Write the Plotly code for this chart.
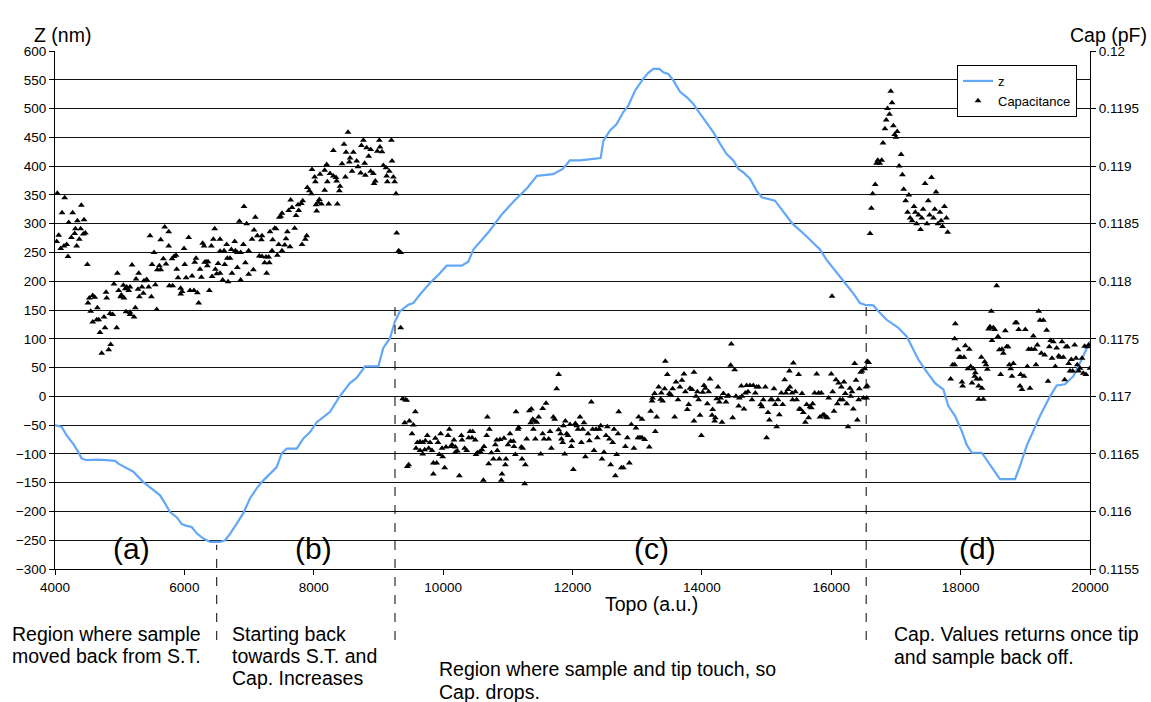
import plotly.graph_objects as go

# ---------------- Z trace (topography scan) ----------------
z_topo = [4000, 4104, 4181, 4284, 4361, 4413, 4490, 4645, 4799, 4928, 4980, 5108, 5211,
          5366, 5521, 5624, 5701, 5778, 5881, 5959, 6036, 6113, 6191, 6294, 6397, 6551,
          6629, 6706, 6809, 6912, 7015, 7118, 7221, 7324, 7427, 7505, 7582, 7737, 7840,
          7943, 8046, 8149, 8252, 8400, 8560, 8663, 8792, 8998, 9075, 9178, 9256, 9333,
          9462, 9539, 9642, 9797, 9926, 10054, 10286, 10389, 10467, 10700, 10900, 11100,
          11300, 11450, 11700, 11850, 11960, 12116, 12435, 12477, 12580, 12683, 12786,
          12863, 12966, 13095, 13172, 13250, 13342, 13404, 13481, 13559, 13662, 13765,
          13868, 13971, 14074, 14177, 14280, 14383, 14486, 14564, 14641, 14744, 14847,
          14925, 15130, 15400, 15600, 15826, 15929, 16084, 16212, 16341, 16444, 16522,
          16650, 16728, 16857, 17037, 17166, 17243, 17346, 17449, 17604, 17733, 17810,
          17913, 18016, 18093, 18171, 18326, 18403, 18506, 18609, 18841, 18918, 19021,
          19124, 19227, 19382, 19485, 19614, 19743, 19871, 20000]
z_nm = [-50, -53, -68, -83, -97, -108, -111, -110, -111, -112, -117, -124, -131,
        -149, -163, -172, -186, -201, -210, -222, -225, -227, -238, -247, -253, -253,
        -250, -239, -221, -203, -177, -160, -146, -134, -123, -99, -91, -91, -73,
        -62, -45, -36, -27, 0, 23, 32, 52, 52, 84, 101, 130, 148,
        159, 162, 177, 197, 211, 227, 227, 234, 255, 285, 315, 340,
        362, 383, 386, 395, 410, 410, 414, 444, 462, 473, 494,
        505, 531, 552, 562, 569, 569, 563, 560, 549, 529, 520,
        508, 491, 476, 459, 439, 421, 410, 395, 389, 378, 357,
        346, 340, 300, 280, 255, 237, 214, 197, 179, 162, 159,
        158, 148, 133, 119, 104, 87, 64, 47, 23, 12, -17,
        -34, -60, -84, -98, -98, -110, -127, -144, -144, -121, -86,
        -60, -34, 0, 19, 21, 35, 64, 96]

# ---------------- Capacitance, region (a)/(b) ----------------
cap_topo_ab = [4036, 4150, 4109, 4273, 4407, 4212, 4346, 4449, 4057, 4026, 4088, 4139, 4181,
               4253, 4304, 4315, 4397, 4376, 4335, 4438, 4469, 4201, 4500, 4531, 4510, 4583,
               4614, 4552, 4655, 4583, 4645, 4676, 4758, 4696, 4773, 4722, 4830, 4861, 4851,
               4892, 4954, 4789, 4799, 4912, 4964, 4984, 5026, 5015, 5057, 5088, 5067, 5108,
               5160, 5139, 5098, 5160, 5191, 5160, 5222, 5242, 5253, 5294, 5283, 5304, 5345,
               5366, 5376, 5417, 5448, 5469, 5500, 5490, 5531, 5551, 5572, 5582, 5613, 5634,
               5634, 5675, 5696, 5716, 5758, 5758, 5768, 5819, 5809, 5840, 5871, 5881, 5902,
               5943, 5943, 5964, 5995, 6005, 6026, 6067, 6088, 6119, 6149, 6160, 6180, 6201,
               6221, 6242, 6263, 6283, 6304, 6314, 6335, 6355, 6366, 6386, 6417, 6428, 6448,
               6469, 6479, 6500, 6521,
               8530, 8767, 9014, 9200, 8468, 8736, 8818, 8880, 9024, 8303, 8499, 8612, 8983,
               9055, 8849, 8561, 8664, 8550, 8787, 8437, 8684, 9210, 8200, 9076, 9117, 7973,
               8169, 8252, 8303, 8344, 8489, 8592, 8726, 8798, 8880, 8921, 9169, 9127, 8014,
               8097, 8210, 8354, 8025, 8952, 8932, 9138, 9251, 9231, 8406, 8396, 8169, 7901,
               7932, 7963, 9272, 7643, 7829, 7808, 7757, 8087, 8066, 8035, 8118, 8231, 8365,
               8045, 6922, 7664, 7767, 7612, 7509, 7489, 7468, 7726, 6850, 6963, 7097, 7077,
               7396, 7417, 7705, 7592, 7324, 7128, 7200, 7046, 7190, 7365, 7571, 7891, 7870,
               9282, 6551, 6654, 6778, 6912, 7458, 7551, 7633, 7819, 6551, 6613, 6726, 6788,
               6819, 6870, 6994, 7355, 7509, 9313, 9344, 7159, 7200, 7262, 7303, 7437, 6664,
               6706, 6623, 6943, 7241, 7313, 6819, 7066, 6551, 6736, 6994, 7272, 6592, 6675,
               6870]
cap_pf_ab = [0.118765, 0.118725, 0.118595, 0.118595, 0.11866, 0.11851, 0.118525, 0.118535,
             0.1184, 0.118345, 0.118285, 0.118305, 0.11832, 0.11838, 0.118415, 0.118455,
             0.118455, 0.118365, 0.118305, 0.11841, 0.11842, 0.118215, 0.118145, 0.117855,
             0.11781, 0.117875, 0.11786, 0.11774, 0.11777, 0.117645, 0.117665, 0.117665,
             0.11769, 0.117555, 0.117595, 0.117375, 0.117405, 0.11745, 0.11772, 0.11771,
             0.117595, 0.117905, 0.117855, 0.117975, 0.11807, 0.11792, 0.11788, 0.117865,
             0.117965, 0.117935, 0.117855, 0.11795, 0.11795, 0.11792, 0.117735, 0.11773,
             0.11814, 0.11771, 0.11769, 0.11777, 0.11802, 0.11807, 0.11793, 0.117865,
             0.11795, 0.117895, 0.118005, 0.118015, 0.11795, 0.118395, 0.118145, 0.117865,
             0.11825, 0.11797, 0.117755, 0.1181, 0.118135, 0.1181, 0.11836, 0.118195,
             0.11847, 0.11815, 0.11843, 0.118305, 0.11796, 0.11796, 0.118195, 0.118215,
             0.118225, 0.118105, 0.11803, 0.11794, 0.11789, 0.11791, 0.118285, 0.118145,
             0.11803, 0.11838, 0.11792, 0.118045, 0.11792, 0.118165, 0.1182, 0.1179,
             0.11781, 0.118105, 0.118035, 0.11833, 0.118305, 0.118165, 0.11817, 0.118135,
             0.11817, 0.11792, 0.118305, 0.11804, 0.118365, 0.118455, 0.118105, 0.118065,
             0.118155,
             0.119295, 0.119225, 0.119225, 0.119225, 0.11919, 0.11918, 0.11916, 0.119145,
             0.119165, 0.119135, 0.11912, 0.11912, 0.11913, 0.119125, 0.119085, 0.11907,
             0.119045, 0.119035, 0.119025, 0.11902, 0.118995, 0.119045, 0.119015, 0.119005,
             0.118985, 0.11897, 0.118965, 0.118935, 0.118915, 0.1189, 0.118905, 0.118955,
             0.11894, 0.11892, 0.118955, 0.118935, 0.118955, 0.118915, 0.118905, 0.11893,
             0.118865, 0.11887, 0.118865, 0.11887, 0.11885, 0.118865, 0.118865, 0.118905,
             0.118825, 0.118785, 0.11879, 0.118815, 0.118785, 0.11876, 0.11876, 0.118705,
             0.1187, 0.118675, 0.118665, 0.11871, 0.118685, 0.118665, 0.11867, 0.11867,
             0.11867, 0.11861, 0.11865, 0.11864, 0.118615, 0.118615, 0.11859, 0.118565,
             0.118555, 0.11857, 0.11852, 0.1185, 0.118555, 0.118445, 0.11846, 0.118455,
             0.11846, 0.11843, 0.11843, 0.118395, 0.118395, 0.118365, 0.11836, 0.11836,
             0.11837, 0.118395, 0.118365, 0.11842, 0.118365, 0.11832, 0.118345, 0.11832,
             0.11832, 0.118315, 0.1183, 0.11832, 0.11826, 0.118265, 0.118275, 0.118265,
             0.11825, 0.11825, 0.118265, 0.118265, 0.118265, 0.118265, 0.11825, 0.11822,
             0.118215, 0.11821, 0.11821, 0.118225, 0.1182, 0.1182, 0.118145, 0.11816,
             0.11816, 0.11816, 0.11812, 0.1181, 0.11807, 0.11807, 0.11806, 0.11807,
             0.11801, 0.117995, 0.11801]

# ---------------- Capacitance, region (c) ----------------
cap_topo_c = [9344, 9375, 9416, 9437, 9571, 9406, 9478, 9540, 9519, 9602, 9643, 9684, 9725,
              9756, 9797, 9581, 9643, 9684, 9715, 9777, 9828, 9880, 9921, 9962, 9942, 9993,
              9983, 10045, 10096, 10076, 10117, 10138, 10168, 10189, 10220, 10189, 10282,
              10292, 10333, 10364, 10395, 10416, 10457, 10447, 10498, 9447, 9468, 9849, 9900,
              9849, 10024, 10251, 10508, 10529, 10570, 10601, 10632, 10684, 10673, 10715,
              10746, 10704, 10622, 10807, 10828, 10838, 10879, 10941, 10777, 10869, 10972,
              10962, 10910, 10900, 11003, 11034, 11044, 11086, 11096, 11127, 11117, 11158,
              11168, 11209, 11220, 11230, 11261, 11271, 11292, 11333, 11364, 11354, 11385,
              11416, 11395, 11447, 11426, 11477, 11508, 11539, 11539, 11560, 11591, 11632,
              11653, 11673, 11704, 11725, 11756, 11786, 11786, 11817, 11828, 11848, 11859,
              11879, 11889, 11910, 11931, 11962, 11993, 11982, 12013, 12044, 12065, 12085,
              12116, 12137, 12158, 12178, 12199, 12240, 12261, 12291, 12312, 12333, 12364,
              12384, 12415, 12436, 12456, 12487, 12518, 12539, 12570, 12590, 12621, 12642,
              12663, 12683, 12714, 12704, 12755, 12786, 12817, 12848, 12879,
              12909, 12981, 12950, 13012, 13043, 13074, 13115, 13187, 13023, 13074, 13208,
              13229, 13239, 13270, 13301, 13280, 13332, 13363, 13373, 13394, 13425, 13435,
              13466, 13497, 13517, 13548, 13579, 13600, 13631, 13661, 13692, 13723, 13744,
              13775, 13796, 13816, 13847, 13878, 13878, 13909, 13930, 13950, 13971, 13992,
              14012, 14033, 14054, 14085, 14105, 14126, 14157, 14167, 14198, 14208, 14229,
              14249, 14270, 14290, 14311, 14332, 14373, 14393, 14414, 14455, 14445, 14476,
              14507, 14527, 14569, 14579, 14610, 14620, 14651, 14672, 14692, 14713, 14744,
              14775, 14795, 14826, 14847, 14878, 14909, 14929, 14950, 14981, 15001, 15022,
              15043, 15063, 15084, 15115, 15136, 15156, 15177, 15197, 15228, 15249, 15280,
              15300, 15331, 15352, 15362, 15393, 15403, 15414, 15445, 15465, 15496, 15507,
              15527, 15548, 15568, 15599, 15620, 15650, 15671, 15692, 15713, 15743, 15775,
              15805, 15826, 15847, 15867, 15888, 15919, 15939, 15960, 16000, 16022, 16043,
              16073, 16094, 16114, 16135, 16156, 16176, 16197, 16217, 16238, 16259, 16290,
              16300, 16321, 16341, 16362, 16383, 16403, 16424, 16434, 16455, 16475, 16496,
              16516, 16537, 16558, 16547, 16012]
cap_pf_c = [0.117595, 0.11698, 0.11697, 0.116965, 0.116865, 0.11677, 0.116785, 0.11675,
            0.116675, 0.1166, 0.116605, 0.1166, 0.116615, 0.11666, 0.1166, 0.11655, 0.11653,
            0.1165, 0.116535, 0.11655, 0.11653, 0.116635, 0.1166, 0.116675, 0.116495,
            0.116475, 0.11655, 0.11656, 0.116715, 0.11666, 0.116565, 0.11658, 0.11662,
            0.11656, 0.116525, 0.116515, 0.11666, 0.11662, 0.11655, 0.11653, 0.11664,
            0.116695, 0.116695, 0.11664, 0.11662, 0.11639, 0.116405, 0.11642, 0.11642,
            0.116325, 0.11638, 0.11631, 0.116495, 0.11651, 0.11652, 0.116535, 0.116565,
            0.11682, 0.11666, 0.116715, 0.11651, 0.116415, 0.11627, 0.11658, 0.11662,
            0.11653, 0.116625, 0.116635, 0.116455, 0.116455, 0.116455, 0.116405, 0.116325,
            0.11627, 0.11658, 0.116675, 0.11661, 0.11661, 0.116565, 0.116865, 0.116495,
            0.116715, 0.11673, 0.11656, 0.116455, 0.11655, 0.11624, 0.116405, 0.11663,
            0.116875, 0.11689, 0.11677, 0.1168, 0.116785, 0.116715, 0.116775, 0.11663,
            0.11682, 0.1165, 0.116675, 0.116895, 0.11663, 0.11694, 0.11663, 0.116695,
            0.11655, 0.11682, 0.1168, 0.117065, 0.11719, 0.11671, 0.116675, 0.11663,
            0.1166, 0.116745, 0.1165, 0.116785, 0.116675, 0.11666, 0.116755, 0.116615,
            0.116565, 0.116365, 0.116765, 0.116745, 0.116715, 0.11682, 0.1166, 0.116715,
            0.11677, 0.116475, 0.116675, 0.116615, 0.11695, 0.116715, 0.11653, 0.116715,
            0.11664, 0.116715, 0.116745, 0.116455, 0.116515, 0.11666, 0.116735, 0.11663,
            0.116405, 0.1166, 0.116715, 0.11631, 0.116495, 0.116865, 0.116675, 0.11638,
            0.11638, 0.116565, 0.11664, 0.11642,
            0.116755, 0.116725, 0.11655, 0.11664, 0.11664, 0.11664, 0.116625, 0.11656,
            0.11682, 0.1168, 0.11687, 0.11696, 0.116985, 0.117025, 0.11682, 0.116695,
            0.11708, 0.116975, 0.11703, 0.11696, 0.117065, 0.117305, 0.11719, 0.117025,
            0.117015, 0.117065, 0.11682, 0.117125, 0.11697, 0.11708, 0.11714, 0.117195,
            0.11704, 0.116885, 0.11693, 0.11707, 0.11706, 0.11721, 0.116785, 0.117,
            0.11704, 0.11697, 0.116835, 0.11666, 0.117035, 0.117095, 0.11707, 0.116935,
            0.11704, 0.11715, 0.116835, 0.116885, 0.116785, 0.116815, 0.11698, 0.11708,
            0.11695, 0.116985, 0.116775, 0.117025, 0.11695, 0.117, 0.117005, 0.117455,
            0.11727, 0.116815, 0.11723, 0.117, 0.116915, 0.116985, 0.11709, 0.117,
            0.11689, 0.11703, 0.117095, 0.11704, 0.117095, 0.11697, 0.117095, 0.11703,
            0.11708, 0.11708, 0.11693, 0.11691, 0.11697, 0.11708, 0.11664, 0.11686,
            0.116795, 0.11697, 0.11697, 0.117065, 0.11693, 0.116735, 0.11697, 0.11684,
            0.11703, 0.11693, 0.117145, 0.11703, 0.11706, 0.11722, 0.11708, 0.11703,
            0.11697, 0.11729, 0.11704, 0.11697, 0.11719, 0.11689, 0.116885, 0.117025,
            0.11686, 0.116775, 0.11693, 0.116815, 0.11691, 0.1169, 0.116935, 0.11703,
            0.117195, 0.11703, 0.11682, 0.11703, 0.116835, 0.11684, 0.11682, 0.116815,
            0.116985, 0.117195, 0.11704, 0.11687, 0.117145, 0.116935, 0.117115, 0.11697,
            0.11708, 0.11697, 0.117125, 0.117025, 0.116935, 0.116735, 0.11707, 0.117,
            0.11704, 0.11689, 0.117285, 0.11714, 0.116795, 0.11697, 0.117065, 0.11721,
            0.11722, 0.116985, 0.11724, 0.11708, 0.117305, 0.116985, 0.11787]

# ---------------- Capacitance, region (d) ----------------
cap_topo_d = [16578, 16558, 16600, 16620, 16640, 16680, 16700, 16720, 16750, 16780, 16800,
              16830, 16850, 16870, 16900, 16920, 16940, 16960, 16980, 17000, 17020, 17050,
              17080, 17100, 17120, 17150, 17180, 17200, 17220, 17250, 17280, 17300, 17320,
              17350, 17380, 17400, 17420, 17450, 17480, 17500, 17520, 17550, 17580, 17600,
              17620, 17650, 17680, 17700, 17720, 17750, 17780, 17800,
              17846, 17877, 17908, 17918, 17908, 17959, 17980, 18001, 18031, 18052, 18021,
              18073, 18134, 18114, 18155, 18176, 18196, 18217, 18227, 18248, 18279, 18299,
              18320, 18330, 18279, 18351, 18372, 18392, 18413, 18433, 18454, 18475, 18485,
              18506, 18526, 18557, 18578, 18598, 18619, 18639, 18660, 18691, 18712, 18732,
              18753, 18774, 18794, 18815, 18846, 18866, 18897, 18918, 18928, 18949, 18980,
              19000, 19031, 19052, 19072, 19093, 19124, 19145, 19165, 19186, 19207, 19227,
              19248, 19279, 19299, 19330, 19351, 19371, 19392, 19413, 19433, 19464, 19485,
              19516, 19536, 19567, 19588, 19608, 19629, 19650, 19670, 19691, 19712, 19732,
              19763, 19784, 19804, 19825, 19845, 19877, 19897, 19917, 19938, 19959, 19979,
              20000]
cap_pf_d = [0.117295, 0.11709, 0.118415, 0.118635, 0.11876, 0.11884, 0.119025, 0.11905,
            0.119025, 0.11905, 0.1192, 0.119325, 0.1194, 0.1195, 0.11945, 0.11965, 0.11955,
            0.11935, 0.119275, 0.11925, 0.1193, 0.119, 0.1191, 0.118925, 0.1188, 0.1187,
            0.1186, 0.11875, 0.11855, 0.118525, 0.11865, 0.1186, 0.1185, 0.118575, 0.11845,
            0.11855, 0.118625, 0.11885, 0.1185, 0.1187, 0.118575, 0.1189, 0.11855, 0.118625,
            0.118775, 0.1185, 0.1186, 0.118525, 0.118475, 0.11865, 0.11855, 0.118425,
            0.11715, 0.117275, 0.117275, 0.11763, 0.1175, 0.117405, 0.11734, 0.11734,
            0.11709, 0.11734, 0.117125, 0.11744, 0.11741, 0.11724, 0.11726, 0.117115,
            0.11724, 0.117175, 0.117205, 0.11715, 0.116975, 0.11715, 0.11734, 0.11707,
            0.11709, 0.116975, 0.1173, 0.117275, 0.117235, 0.117585, 0.117605, 0.11774,
            0.117485, 0.117595, 0.11758, 0.11796, 0.11752, 0.117405, 0.11719, 0.11741,
            0.117375, 0.11757, 0.11743, 0.11743, 0.117275, 0.11724, 0.117175, 0.117285,
            0.11764, 0.11764, 0.11758, 0.11709, 0.11719, 0.11706, 0.117175, 0.11758,
            0.11726, 0.11741, 0.11707, 0.11741, 0.117525, 0.11741, 0.117275, 0.117445,
            0.11774, 0.11766, 0.117375, 0.11766, 0.11736, 0.117575, 0.11713, 0.11743,
            0.117485, 0.11733, 0.117475, 0.11726, 0.11742, 0.11735, 0.11734, 0.117475,
            0.11734, 0.117145, 0.11743, 0.11743, 0.117285, 0.11722, 0.11732, 0.11722,
            0.117445, 0.11733, 0.117275, 0.11722, 0.117245, 0.11733, 0.1172, 0.117435,
            0.11719, 0.11743, 0.117445, 0.117245]

cap_topo = cap_topo_ab + cap_topo_c + cap_topo_d
cap_pf = cap_pf_ab + cap_pf_c + cap_pf_d

# Axis ticks
z_range = [-300, 600]
cap_range = [0.1155, 0.12]
cap_ticks = [0.1155, 0.116, 0.1165, 0.117, 0.1175, 0.118, 0.1185, 0.119, 0.1195, 0.12]
cap_ticktext = ["0.1155", "0.116", "0.1165", "0.117", "0.1175", "0.118", "0.1185",
                "0.119", "0.1195", "0.12"]
x_ticks = [4000, 6000, 8000, 10000, 12000, 14000, 16000, 18000, 20000]
x_ticktext = ["4000", "6000", "8000", "10000", "12000", "14000", "16000", "18000", "20000"]

# Region labels and boundary markers
region_labels = ["(a)", "(b)", "(c)", "(d)"]
region_label_x = [5190, 7990, 13215, 18255]
region_label_z = -265
boundary_x = [6500, 9256, 16540]
boundary_top_z = [-258, 155, 155]

FONT = "Liberation Sans, Arial, sans-serif"
BLUE = "#62a8f7"

fig = go.Figure()
fig.add_trace(go.Scatter(
    x=z_topo, y=z_nm, name="z", mode="lines",
    line=dict(color=BLUE, width=2.2),
))
fig.add_trace(go.Scatter(
    x=cap_topo, y=cap_pf, name="Capacitance", mode="markers", yaxis="y2",
    marker=dict(symbol="triangle-up", size=6, color="black"),
))


def z_to_paper(z):
    return (z - z_range[0]) / (z_range[1] - z_range[0])


# plot area in pixels: left 55, right 1090, top 51, bottom 569
def px_x(px):
    return (px - 55) / 1035


def px_y(py):
    return (569 - py) / 518


shapes = []
for bx, bz in zip(boundary_x, boundary_top_z):
    shapes.append(dict(type="line", xref="x", yref="paper", x0=bx, x1=bx,
                       y0=px_y(640), y1=z_to_paper(bz),
                       line=dict(color="black", width=1, dash="dash")))

annotations = []
for lab, lx in zip(region_labels, region_label_x):
    annotations.append(dict(x=lx, y=region_label_z, xref="x", yref="y", text=lab,
                            showarrow=False, font=dict(size=30, color="black", family=FONT)))

text_font = dict(size=19.5, color="black", family=FONT)
# (left pixel, centre line pixel, text) for each line of the explanatory notes
note_lines = [
    (10, 634, "Region where sample"),
    (10, 656, "moved back from S.T."),
    (230, 634, "Starting back"),
    (230, 656, "towards S.T. and"),
    (230, 678, "Cap. Increases"),
    (437, 669, "Region where sample and tip touch, so"),
    (437, 692, "Cap. drops."),
    (892, 634, "Cap. Values returns once tip"),
    (892, 657, "and sample back off."),
]
for nx, ny, txt in note_lines:
    annotations.append(dict(x=px_x(nx), y=px_y(ny), xref="paper", yref="paper", text=txt,
                            showarrow=False, xanchor="left", yanchor="middle", align="left",
                            font=text_font))

title_font = dict(size=19.5, color="black", family=FONT)
annotations += [
    dict(x=px_x(651), y=px_y(617), xref="paper", yref="paper", text="Topo (a.u.)",
         showarrow=False, font=title_font),
    dict(x=px_x(32), y=px_y(22), xref="paper", yref="paper", text="Z (nm)", xanchor="left",
         showarrow=False, font=title_font),
    dict(x=px_x(1149), y=px_y(22), xref="paper", yref="paper", text="Cap (pF)",
         xanchor="right", showarrow=False, font=title_font),
]

tick_font = dict(size=13.5, color="black", family=FONT)

fig.update_layout(
    width=1151, height=702,
    margin=dict(l=55, r=61, t=51, b=133),
    paper_bgcolor="white", plot_bgcolor="white",
    font=dict(family=FONT, color="black"),
    showlegend=True,
    legend=dict(x=px_x(957), y=px_y(65), xanchor="left", yanchor="top",
                bgcolor="white", bordercolor="black", borderwidth=1,
                font=dict(size=13, color="black", family=FONT),
                tracegroupgap=0, itemwidth=30),
    xaxis=dict(range=[4000, 20000], tickvals=x_ticks, ticktext=x_ticktext,
               showgrid=False, zeroline=False,
               showline=True, linecolor="black", linewidth=1,
               ticks="outside", ticklen=5, tickcolor="black",
               tickfont=tick_font, ticklabelstandoff=1),
    yaxis=dict(range=z_range, dtick=50, tick0=0, showgrid=True, gridcolor="#111",
               gridwidth=1, zeroline=False, showline=True, linecolor="black",
               ticks="outside", ticklen=5, tickcolor="black", tickfont=tick_font),
    yaxis2=dict(range=cap_range, overlaying="y", side="right", tickvals=cap_ticks,
                ticktext=cap_ticktext, showgrid=False, zeroline=False, showline=True,
                linecolor="black", ticks="outside", ticklen=5, tickcolor="black",
                tickfont=tick_font),
    shapes=shapes,
    annotations=annotations,
)

fig.write_html("out.html")
